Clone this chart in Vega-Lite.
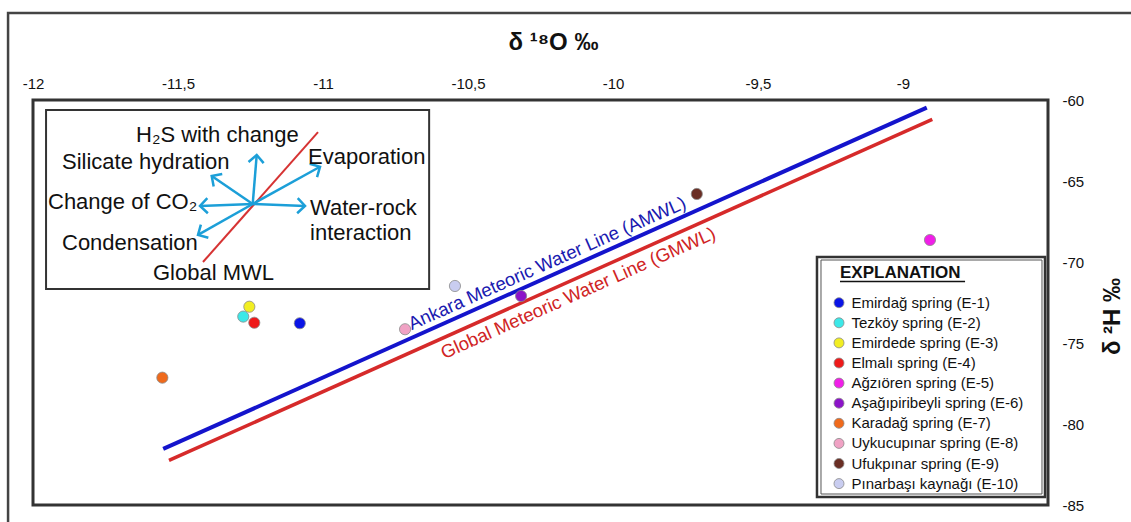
{
  "$schema": "https://vega.github.io/schema/vega-lite/v6.json",
  "width": 1015,
  "height": 405,
  "autosize": {"type": "none"},
  "padding": {"left": 33, "top": 100, "right": 83, "bottom": 17},
  "background": "white",
  "config": {
    "view": {"stroke": "#333333", "strokeWidth": 3},
    "font": "Liberation Sans",
    "text": {"font": "Liberation Sans"}
  },
  "datasets": {
    "springs": [
      {"spring": "Emirdağ spring (E-1)", "d18O": -11.08, "d2H": -73.78},
      {"spring": "Tezköy spring (E-2)", "d18O": -11.275, "d2H": -73.37},
      {"spring": "Emirdede spring (E-3)", "d18O": -11.254, "d2H": -72.76},
      {"spring": "Elmalı spring (E-4)", "d18O": -11.237, "d2H": -73.75},
      {"spring": "Ağzıören spring (E-5)", "d18O": -8.907, "d2H": -68.64},
      {"spring": "Aşağıpiribeyli spring (E-6)", "d18O": -10.317, "d2H": -72.1},
      {"spring": "Karadağ spring (E-7)", "d18O": -11.554, "d2H": -77.14},
      {"spring": "Uykucupınar spring (E-8)", "d18O": -10.717, "d2H": -74.15},
      {"spring": "Ufukpınar spring (E-9)", "d18O": -9.711, "d2H": -65.8},
      {"spring": "Pınarbaşı kaynağı (E-10)", "d18O": -10.545, "d2H": -71.48}
    ],
    "mwl": [
      {"line": "AMWL", "d18O": -11.551, "d2H": -81.54},
      {"line": "AMWL", "d18O": -8.918, "d2H": -60.47},
      {"line": "GMWL", "d18O": -11.531, "d2H": -82.25},
      {"line": "GMWL", "d18O": -8.899, "d2H": -61.19}
    ],
    "processArrows": [
      {"process": "H2S with change", "x0": -11.2424, "y0": -66.42, "x1": -11.2286, "y1": -63.395},
      {"process": "Silicate hydration", "x0": -11.2424, "y0": -66.42, "x1": -11.3838, "y1": -64.69},
      {"process": "Change of CO2", "x0": -11.2424, "y0": -66.42, "x1": -11.4241, "y1": -66.54},
      {"process": "Condensation", "x0": -11.2424, "y0": -66.42, "x1": -11.431, "y1": -68.33},
      {"process": "Water-rock interaction", "x0": -11.2424, "y0": -66.42, "x1": -11.062, "y1": -66.54},
      {"process": "Evaporation", "x0": -11.2424, "y0": -66.42, "x1": -11.0103, "y1": -64.12}
    ],
    "processLabels": [
      {"label": "H₂S with change", "x": -11.6448, "y": -62.16},
      {"label": "Silicate hydration", "x": -11.9, "y": -63.83},
      {"label": "Evaporation", "x": -11.0517, "y": -63.52},
      {"label": "Change of CO₂", "x": -11.9483, "y": -66.3},
      {"label": "Water-rock", "x": -11.0448, "y": -66.67},
      {"label": "interaction", "x": -11.0448, "y": -68.21},
      {"label": "Condensation", "x": -11.9, "y": -68.83},
      {"label": "Global MWL", "x": -11.5862, "y": -70.68}
    ]
  },
  "layer": [
    {
      "data": {"name": "springs"},
      "mark": {"type": "point", "filled": true, "size": 125, "stroke": "#8a8a8a", "strokeWidth": 0.8, "opacity": 0},
      "encoding": {
        "x": {
          "field": "d18O",
          "type": "quantitative",
          "scale": {"domain": [-12, -8.5], "nice": false, "zero": false},
          "axis": {
            "orient": "top",
            "values": [-12, -11.5, -11, -10.5, -10, -9.5, -9],
            "labelExpr": "replace(toString(datum.value), '.', ',')",
            "ticks": false,
            "domain": false,
            "grid": false,
            "labelFlush": false,
            "labelOverlap": false,
            "labelPadding": 9,
            "labelFontSize": 15,
            "labelColor": "#111111",
            "title": "δ ¹⁸O  ‰",
            "titleFontSize": 24,
            "titleFontWeight": "bold",
            "titleColor": "#111111",
            "titleX": 520,
            "titleY": -58,
            "titleAlign": "center",
            "titleBaseline": "middle"
          }
        },
        "y": {
          "field": "d2H",
          "type": "quantitative",
          "scale": {"domain": [-85, -60], "nice": false, "zero": false},
          "axis": {
            "orient": "right",
            "values": [-60, -65, -70, -75, -80, -85],
            "labelExpr": "toString(datum.value)",
            "ticks": false,
            "domain": false,
            "grid": false,
            "labelFlush": false,
            "labelOverlap": false,
            "labelPadding": 14,
            "labelFontSize": 15,
            "labelAlign": "left",
            "labelColor": "#111111",
            "title": "δ ²H ‰",
            "titleFontSize": 24,
            "titleFontWeight": "bold",
            "titleColor": "#111111",
            "titleAngle": 270,
            "titleX": 64,
            "titleY": 216,
            "titleAlign": "center",
            "titleBaseline": "middle"
          }
        }
      }
    },
    {
      "data": {"values": [{}]},
      "mark": {"type": "rect", "filled": false, "stroke": "#444444", "strokeWidth": 2.5},
      "encoding": {
        "x": {"datum": -12.086, "type": "quantitative", "scale": {"domain": [-12, -8.5], "nice": false, "zero": false}},
        "x2": {"datum": -8.2},
        "y": {"datum": -54.63, "type": "quantitative", "scale": {"domain": [-85, -60], "nice": false, "zero": false}},
        "y2": {"datum": -86.3}
      }
    },
    {
      "data": {"values": [{}]},
      "mark": {"type": "rect", "fill": "white", "stroke": "#333333", "strokeWidth": 2},
      "encoding": {
        "x": {"datum": -11.955, "type": "quantitative", "scale": {"domain": [-12, -8.5], "nice": false, "zero": false}},
        "x2": {"datum": -10.634},
        "y": {"datum": -60.62, "type": "quantitative", "scale": {"domain": [-85, -60], "nice": false, "zero": false}},
        "y2": {"datum": -71.67}
      }
    },
    {
      "data": {"values": [{}]},
      "mark": {"type": "rule", "stroke": "#d63333", "strokeWidth": 2},
      "encoding": {
        "x": {"datum": -11.4138, "type": "quantitative", "scale": {"domain": [-12, -8.5], "nice": false, "zero": false}},
        "x2": {"datum": -11.0172},
        "y": {"datum": -70.0, "type": "quantitative", "scale": {"domain": [-85, -60], "nice": false, "zero": false}},
        "y2": {"datum": -61.98}
      }
    },
    {
      "data": {"name": "processArrows"},
      "mark": {"type": "rule", "stroke": "#1c9fd8", "strokeWidth": 2.5},
      "encoding": {
        "x": {"field": "x0", "type": "quantitative", "scale": {"domain": [-12, -8.5], "nice": false, "zero": false}},
        "x2": {"field": "x1"},
        "y": {"field": "y0", "type": "quantitative", "scale": {"domain": [-85, -60], "nice": false, "zero": false}},
        "y2": {"field": "y1"}
      }
    },
    {
      "data": {"name": "processArrows"},
      "transform": [
        {"calculate": "atan2((datum.x1 - datum.x0) * 290, (datum.y1 - datum.y0) * 16.2) * 180 / PI", "as": "heading"}
      ],
      "mark": {"type": "point", "shape": "M -1 1 L 0 0 L 1 1", "filled": false, "stroke": "#1c9fd8", "strokeWidth": 2.5, "size": 230, "opacity": 1},
      "encoding": {
        "x": {"field": "x1", "type": "quantitative", "scale": {"domain": [-12, -8.5], "nice": false, "zero": false}},
        "y": {"field": "y1", "type": "quantitative", "scale": {"domain": [-85, -60], "nice": false, "zero": false}},
        "angle": {"field": "heading", "type": "quantitative", "scale": null}
      }
    },
    {
      "data": {"name": "processLabels"},
      "mark": {"type": "text", "align": "left", "baseline": "middle", "fontSize": 22, "color": "#111111"},
      "encoding": {
        "x": {"field": "x", "type": "quantitative", "scale": {"domain": [-12, -8.5], "nice": false, "zero": false}},
        "y": {"field": "y", "type": "quantitative", "scale": {"domain": [-85, -60], "nice": false, "zero": false}},
        "text": {"field": "label"}
      }
    },
    {
      "data": {"name": "mwl"},
      "transform": [{"filter": "datum.line === 'AMWL'"}],
      "mark": {"type": "line", "stroke": "#1414cc", "strokeWidth": 4},
      "encoding": {
        "x": {"field": "d18O", "type": "quantitative", "scale": {"domain": [-12, -8.5], "nice": false, "zero": false}},
        "y": {"field": "d2H", "type": "quantitative", "scale": {"domain": [-85, -60], "nice": false, "zero": false}}
      }
    },
    {
      "data": {"name": "mwl"},
      "transform": [{"filter": "datum.line === 'GMWL'"}],
      "mark": {"type": "line", "stroke": "#d62a2a", "strokeWidth": 3.5},
      "encoding": {
        "x": {"field": "d18O", "type": "quantitative", "scale": {"domain": [-12, -8.5], "nice": false, "zero": false}},
        "y": {"field": "d2H", "type": "quantitative", "scale": {"domain": [-85, -60], "nice": false, "zero": false}}
      }
    },
    {
      "data": {"values": [{}]},
      "mark": {"type": "text", "align": "left", "baseline": "alphabetic", "angle": 336, "dy": -7, "fontSize": 18.5, "color": "#1a1ab0", "text": "Ankara Meteoric Water Line (AMWL)"},
      "encoding": {
        "x": {"datum": -10.684, "type": "quantitative", "scale": {"domain": [-12, -8.5], "nice": false, "zero": false}},
        "y": {"datum": -74.6, "type": "quantitative", "scale": {"domain": [-85, -60], "nice": false, "zero": false}}
      }
    },
    {
      "data": {"values": [{}]},
      "mark": {"type": "text", "align": "left", "baseline": "top", "angle": 336, "dy": 5, "fontSize": 18.5, "color": "#d02424", "text": "Global Meteoric Water Line (GMWL)"},
      "encoding": {
        "x": {"datum": -10.61, "type": "quantitative", "scale": {"domain": [-12, -8.5], "nice": false, "zero": false}},
        "y": {"datum": -74.88, "type": "quantitative", "scale": {"domain": [-85, -60], "nice": false, "zero": false}}
      }
    },
    {
      "data": {"values": [{}]},
      "mark": {"type": "rect", "fill": "white", "stroke": "#333333", "strokeWidth": 2.5},
      "encoding": {
        "x": {"datum": -9.2966, "type": "quantitative", "scale": {"domain": [-12, -8.5], "nice": false, "zero": false}},
        "x2": {"datum": -8.5103},
        "y": {"datum": -69.691, "type": "quantitative", "scale": {"domain": [-85, -60], "nice": false, "zero": false}},
        "y2": {"datum": -84.506}
      }
    },
    {
      "data": {"values": [{}]},
      "mark": {"type": "rect", "filled": false, "stroke": "#555555", "strokeWidth": 1},
      "encoding": {
        "x": {"datum": -9.2828, "type": "quantitative", "scale": {"domain": [-12, -8.5], "nice": false, "zero": false}},
        "x2": {"datum": -8.5207},
        "y": {"datum": -69.877, "type": "quantitative", "scale": {"domain": [-85, -60], "nice": false, "zero": false}},
        "y2": {"datum": -84.321}
      }
    },
    {
      "data": {"values": [{}]},
      "mark": {"type": "text", "align": "left", "baseline": "alphabetic", "fontSize": 17, "fontWeight": "bold", "color": "#111111", "text": "EXPLANATION"},
      "encoding": {
        "x": {"datum": -9.2172, "type": "quantitative", "scale": {"domain": [-12, -8.5], "nice": false, "zero": false}},
        "y": {"datum": -71.006, "type": "quantitative", "scale": {"domain": [-85, -60], "nice": false, "zero": false}}
      }
    },
    {
      "data": {"values": [{}]},
      "mark": {"type": "rule", "stroke": "#111111", "strokeWidth": 1.5},
      "encoding": {
        "x": {"datum": -9.2172, "type": "quantitative", "scale": {"domain": [-12, -8.5], "nice": false, "zero": false}},
        "x2": {"datum": -8.786},
        "y": {"datum": -71.2, "type": "quantitative", "scale": {"domain": [-85, -60], "nice": false, "zero": false}}
      }
    },
    {
      "data": {"name": "springs"},
      "mark": {"type": "point", "filled": true, "size": 125, "stroke": "#8a8a8a", "strokeWidth": 0.8, "opacity": 1},
      "encoding": {
        "x": {"field": "d18O", "type": "quantitative", "scale": {"domain": [-12, -8.5], "nice": false, "zero": false}},
        "y": {"field": "d2H", "type": "quantitative", "scale": {"domain": [-85, -60], "nice": false, "zero": false}},
        "color": {
          "field": "spring",
          "type": "nominal",
          "scale": {
            "domain": ["Emirdağ spring (E-1)", "Tezköy spring (E-2)", "Emirdede spring (E-3)", "Elmalı spring (E-4)", "Ağzıören spring (E-5)", "Aşağıpiribeyli spring (E-6)", "Karadağ spring (E-7)", "Uykucupınar spring (E-8)", "Ufukpınar spring (E-9)", "Pınarbaşı kaynağı (E-10)"],
            "range": ["#0a14e6", "#3ce8e8", "#f2ee22", "#ee1a1a", "#f01ee8", "#8c14c8", "#ef6a1c", "#f0a2c4", "#6a2e24", "#c9cdf0"]
          },
          "legend": {
            "orient": "none",
            "legendX": 798.5,
            "legendY": 195.2,
            "title": null,
            "padding": 0,
            "labelFontSize": 15,
            "labelFont": "Liberation Sans",
            "labelColor": "#111111",
            "labelLimit": 0,
            "labelOffset": 5,
            "rowPadding": 4.1,
            "symbolType": "circle",
            "symbolSize": 100,
            "symbolOpacity": 1,
            "symbolStrokeColor": "#8a8a8a",
            "symbolStrokeWidth": 0.8
          }
        }
      }
    }
  ]
}
